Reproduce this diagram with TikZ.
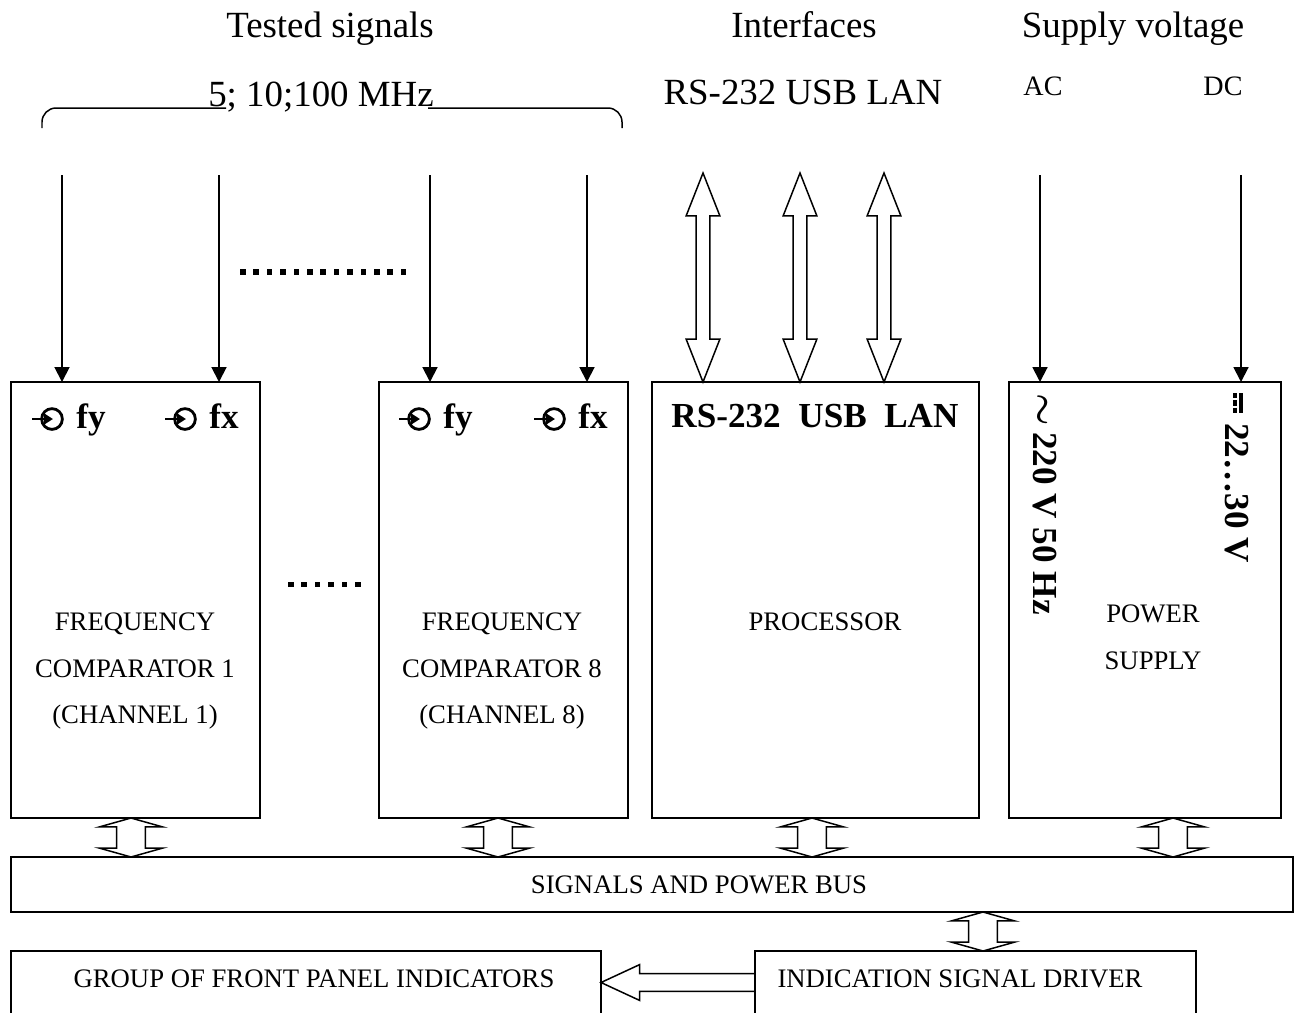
\documentclass[tikz,border=0pt]{standalone}
\usepackage{fontspec}
\setmainfont{Liberation Serif}
\usetikzlibrary{arrows.meta,calc}
\tikzset{
  blk/.style={draw,line width=1.1pt,inner sep=0,outer sep=0,anchor=north west},
  boxtxt/.style={font=\fontsize{15.2}{26.5}\selectfont,align=center,inner sep=0},
  bigtxt/.style={font=\fontsize{21}{25}\selectfont,inner sep=0,anchor=base},
  smalltxt/.style={font=\fontsize{16}{19}\selectfont,inner sep=0,anchor=base},
  boldtxt/.style={font=\fontsize{20}{24}\selectfont\bfseries,inner sep=0},
  sig/.style={-{Triangle[length=8.5pt,width=8.5pt]},line width=1.1pt},
  vdbl/.style n args={3}{line width=0.85pt,to path={let \p1=(\tikztostart),\p2=(\tikztotarget) in
    (\x1,\y1) -- (\x1+#2,\y1-#3) -- (\x1+#1,\y1-#3) -- (\x1+#1,\y2+#3) -- (\x1+#2,\y2+#3) -- (\x1,\y2)
    -- (\x1-#2,\y2+#3) -- (\x1-#1,\y2+#3) -- (\x1-#1,\y1-#3) -- (\x1-#2,\y1-#3) -- cycle}},
  hsgl/.style n args={3}{line width=0.85pt,to path={let \p1=(\tikztostart),\p2=(\tikztotarget) in
    (\x1,\y1+#1) -- (\x2+#3,\y1+#1) -- (\x2+#3,\y1+#2) -- (\x2,\y1) -- (\x2+#3,\y1-#2) -- (\x2+#3,\y1-#1) -- (\x1,\y1-#1)}},
  inpin/.pic={
    \draw[line width=1.6pt] (0,0) circle (5.9pt);
    \draw[line width=1.4pt,-{Triangle[length=5pt,width=6pt]}] (-20,0) -- (1,0);
  },
}
\begin{document}
\begin{tikzpicture}[x=0.02cm,y=-0.02cm]
  \def\u{0.02cm}
  \useasboundingbox (0,0) rectangle (1295,1012);
  \clip (0,0) rectangle (1295,1012);
  % --- headings
  \node[bigtxt] (hsig) at (330,37) {Tested signals};
  \node[bigtxt] (hint) at (804,37) {Interfaces};
  \node[bigtxt] (hsup) at (1133,37) {Supply voltage};
  \node[bigtxt] (hfreq) at (321,106) {5; 10;100 MHz};
  \node[bigtxt] (hports) at (803,104) {RS-232 USB LAN};
  \node[smalltxt] (hac) at (1043,95) {AC};
  \node[smalltxt] (hdc) at (1223,95) {DC};
  \draw[line width=0.85pt,rounded corners=8pt] (42,128) |- (226,108);
  \draw[line width=0.85pt,rounded corners=8pt] (428,108) -| (622,128);
  % --- blocks
  \node[blk,minimum width={249*\u},minimum height={436*\u}] (fcA) at (11,382) {};
  \node[blk,minimum width={249*\u},minimum height={436*\u}] (fcH) at (379,382) {};
  \node[blk,minimum width={327*\u},minimum height={436*\u}] (proc) at (652,382) {};
  \node[blk,minimum width={272*\u},minimum height={436*\u}] (psu) at (1009,382) {};
  \node[blk,minimum width={1282*\u},minimum height={55*\u}] (bus) at (11,857) {};
  \node[blk,minimum width={590*\u},minimum height={63*\u}] (grp) at (11,951) {};
  \node[blk,minimum width={441*\u},minimum height={63*\u}] (drv) at (755,951) {};
  % --- block texts
  \node[boxtxt] (fcAl) at (135,671) {FREQUENCY\\COMPARATOR 1\\(CHANNEL 1)};
  \node[boxtxt] (fcHl) at (502,671) {FREQUENCY\\COMPARATOR 8\\(CHANNEL 8)};
  \node[boxtxt,anchor=base] (procl) at (825,630) {PROCESSOR};
  \node[boxtxt] (psul) at (1153,637) {POWER\\SUPPLY};
  \node[boxtxt,anchor=base] (busl) at (699,893) {SIGNALS AND POWER BUS};
  \node[boxtxt,anchor=base] (grpl) at (314,987) {GROUP OF FRONT PANEL INDICATORS};
  \node[boxtxt,anchor=base] (drvl) at (960,987) {INDICATION SIGNAL DRIVER};
  % --- inputs of the comparators
  \foreach \cx/\tx/\l in {52/76/fy, 185/209/fx, 419/443/fy, 554/578/fx} {
    \pic at (\cx,419) {inpin};
    \node[boldtxt,anchor=base west] (pin\tx) at (\tx,428) {\l};
  }
  \node[boldtxt,anchor=base] (portsl) at (815,427) {RS-232~~USB~~LAN};
  \node[boldtxt,rotate=-90,anchor=base west] (acl) at (1033,393) {{\boldmath$\sim$}\hspace{-1.5pt} 220 V 50 Hz};
  \node[boldtxt,rotate=-90,anchor=base west] (dcl) at (1225,423) {22\ldots30 V};
  \draw[line width=1.8pt] (1241,393) -- (1241,413);
  \draw[line width=1.8pt,dash pattern=on 3pt off 1.15pt] (1235,393) -- (1235,413);
  % --- dots
  \foreach \i in {0,...,12} \fill (240+\i*13.4,269) rectangle +(5.5,5.5);
  \foreach \i in {0,...,5} \fill (288+\i*13.4,581.5) rectangle +(5.5,5.5);
  % --- signal arrows
  \foreach \m/\xx/\bx in {a/62/fcA, b/219/fcA, c/430/fcH, d/587/fcH, e/1040/psu, f/1241/psu} {
    \coordinate (in\m) at (\xx,175);
    \draw[sig] (in\m) -- (in\m |- \bx.north);
  }
  % --- interface arrows
  \foreach \m/\xx in {r/703, u/800, l/884} {
    \coordinate (io\m) at (\xx,173);
    \coordinate (pi\m) at (io\m |- proc.north);
    \draw[vdbl={3.97pt}{9.6pt}{24.4pt}] (io\m) to (pi\m);
  }
  % --- bus arrows
  \foreach \xx/\bx in {131/fcA, 498/fcH, 812/proc, 1173/psu} {
    \coordinate (k\bx) at (\xx,0);
    \coordinate (t\bx) at (k\bx |- \bx.south);
    \coordinate (b\bx) at (k\bx |- bus.north);
    \draw[vdbl={8.2pt}{18.1pt}{5.1pt}] (t\bx) to (b\bx);
  }
  \coordinate (kdrv) at (983,0);
  \coordinate (tdrv) at (kdrv |- bus.south);
  \coordinate (bdrv) at (kdrv |- drv.north);
  \draw[vdbl={8.2pt}{18.1pt}{5.1pt}] (tdrv) to (bdrv);
  \coordinate (odrv) at (drv.west);
  \coordinate (ogrp) at (grp.east);
  \draw[hsgl={5.1pt}{10.2pt}{22pt}] (odrv) to (ogrp);
\end{tikzpicture}
\end{document}
